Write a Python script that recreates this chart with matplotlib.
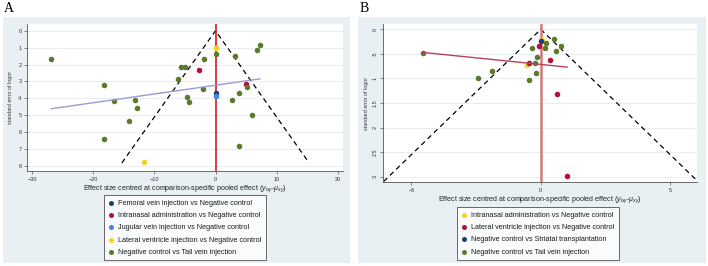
import matplotlib
matplotlib.use("Agg")
import matplotlib.pyplot as plt
from matplotlib.patches import Rectangle

plt.rcParams['font.family'] = ['Liberation Sans', 'DejaVu Sans']
plt.rcParams['mathtext.fontset'] = 'custom'
plt.rcParams['mathtext.it'] = 'Liberation Sans:italic'
plt.rcParams['mathtext.rm'] = 'Liberation Sans'

# ---- panel A data ----
a_groups = ['Femoral vein injection vs Negative control',
            'Intranasal administration vs Negative control',
            'Jugular vein injection vs Negative control',
            'Lateral ventricle injection vs Negative control',
            'Negative control vs Tail vein injection']
a_colors = ['#1f3f72', '#b0123c', '#3d85e6', '#f5d31c', '#5b7a2e']
a_x = [[0.0],
       [-2.7, 5.0],
       [0.0],
       [0.16, -11.7],
       [-26.9, -18.35, -18.35, -16.6, -13.2, -12.8, -14.2, -5.66, -5.0, -6.1,
        -4.6, -4.3, -1.87, -1.98, 0.05, 3.13, 6.76, 7.25, 3.9, 2.75, 5.16,
        5.93, 3.85]]
a_y = [[3.68],
       [2.31, 3.16],
       [3.89],
       [1.01, 7.77],
       [1.70, 3.22, 6.40, 4.15, 4.11, 4.55, 5.36, 2.15, 2.15, 2.83,
        3.93, 4.25, 1.68, 3.46, 1.36, 1.48, 1.13, 0.83, 3.66, 4.13, 3.36,
        4.98, 6.80]]
a_fit_x = [-26.9, 7.3]
a_fit_y = [4.62, 2.85]
a_se_max = 7.83

# ---- panel B data ----
b_groups = ['Intranasal administration vs Negative control',
            'Lateral ventricle injection vs Negative control',
            'Negative control vs Striatal transplantation',
            'Negative control vs Tail vein injection']
b_colors = ['#f5d31c', '#b0123c', '#1f3f72', '#5b7a2e']
b_x = [[0.06, -0.53],
       [-0.06, -0.46, 0.37, 0.64, 1.0],
       [0.0],
       [-4.57, -2.42, -1.88, -0.44, -0.17, -0.21, -0.15, -0.35, 0.17, 0.19,
        0.52, 0.77, 0.57]]
b_y = [[0.21, 0.72],
       [0.35, 0.69, 0.63, 1.32, 2.98],
       [0.24],
       [0.49, 1.0, 0.85, 1.03, 0.89, 0.69, 0.57, 0.39, 0.39, 0.27,
        0.19, 0.33, 0.44]]
b_fit_x = [-4.57, 1.02]
b_fit_y = [0.47, 0.77]
b_se_max = 3.1

W, H = 708, 266
fig = plt.figure(figsize=(W / 100, H / 100), dpi=100)
bg = '#e9f0f3'


def px_rect(x0, y0, x1, y1):
    return [x0 / W, (H - y1) / H, (x1 - x0) / W, (y1 - y0) / H]


for r in [px_rect(3, 17, 350, 263), px_rect(358, 17, 706, 263)]:
    fig.add_artist(Rectangle((r[0], r[1]), r[2], r[3], transform=fig.transFigure,
                             facecolor=bg, edgecolor='none', zorder=-5))

xlabel = r"Effect size centred at comparison-specific pooled effect ($y_{ixy}$-$\mu_{xy}$)"


def funnel(ax, xs, ys, groups, colors, fit_x, fit_y, se_max, fit_col, vcol, vlw):
    ax.set_facecolor('white')
    for s in ['top', 'right']:
        ax.spines[s].set_visible(False)
    for s in ['left', 'bottom']:
        ax.spines[s].set_color('#555555')
        ax.spines[s].set_linewidth(0.6)
    ax.grid(axis='y', color='#e3eaee', lw=0.6)
    ax.set_axisbelow(True)
    ax.plot([-1.96 * se_max, 0, 1.96 * se_max], [se_max, 0, se_max],
            color='black', ls=(0, (4, 3)), lw=0.9, zorder=2)
    ax.axvline(0, color=vcol, lw=vlw, zorder=2)
    for x, y, g, c in zip(xs, ys, groups, colors):
        ax.scatter(x, y, s=16, color=c, label=g, zorder=3, linewidths=0)
    ax.plot(fit_x, fit_y, color=fit_col, lw=1.0, zorder=4)
    ax.tick_params(labelsize=4, length=2.5, width=0.5, pad=1.5,
                   color='#555555', labelcolor='#333333')
    ax.set_ylabel('standard error of logor', fontsize=3.8, color='#333333')
    ax.set_xlabel(xlabel, fontsize=5.1, color='#222222')


# panel A
axA = fig.add_axes(px_rect(27, 24, 343, 171))
funnel(axA, a_x, a_y, a_groups, a_colors, a_fit_x, a_fit_y, a_se_max,
       '#9c99d8', '#d7191c', 1.2)
axA.set_xlim(-30.9, 20.9)
axA.set_ylim(8.31, -0.4)
axA.set_xticks([-30, -20, -10, 0, 10, 20])
axA.set_yticks(range(0, 9))
axA.yaxis.set_label_coords(-0.045, 0.5)
axA.xaxis.set_label_coords(0.5, -0.085)

# panel B
axB = fig.add_axes(px_rect(383, 24, 697, 182))
funnel(axB, b_x, b_y, b_groups, b_colors, b_fit_x, b_fit_y, b_se_max,
       '#b8405e', '#d07a7a', 1.8)
axB.set_xlim(-6.1, 6.04)
axB.set_ylim(3.11, -0.108)
axB.set_xticks([-5, 0, 5])
axB.set_yticks([0, 0.5, 1, 1.5, 2, 2.5, 3])
axB.set_yticklabels(['0', '.5', '1', '1.5', '2', '2.5', '3'], rotation=90, va='center')
axB.yaxis.set_label_coords(-0.045, 0.5)
axB.xaxis.set_label_coords(0.5, -0.075)

for ax, cx, top in [(axA, 185, 195), (axB, 538, 207)]:
    leg = ax.legend(loc='upper center', bbox_to_anchor=(cx / W, (H - top) / H),
                    bbox_transform=fig.transFigure, fontsize=5.2, frameon=True,
                    fancybox=False, edgecolor='#444444', handletextpad=0.6,
                    labelspacing=0.72, borderpad=0.65, handlelength=0.8,
                    markerscale=0.9, borderaxespad=0)
    leg.get_frame().set_linewidth(0.7)
    for t in leg.get_texts():
        t.set_color('#1a1a1a')

fig.text(4 / W, (H - 12) / H, 'A', fontsize=10, family='Liberation Serif')
fig.text(360 / W, (H - 12) / H, 'B', fontsize=10, family='Liberation Serif')

fig.savefig('out.png', dpi=100)
